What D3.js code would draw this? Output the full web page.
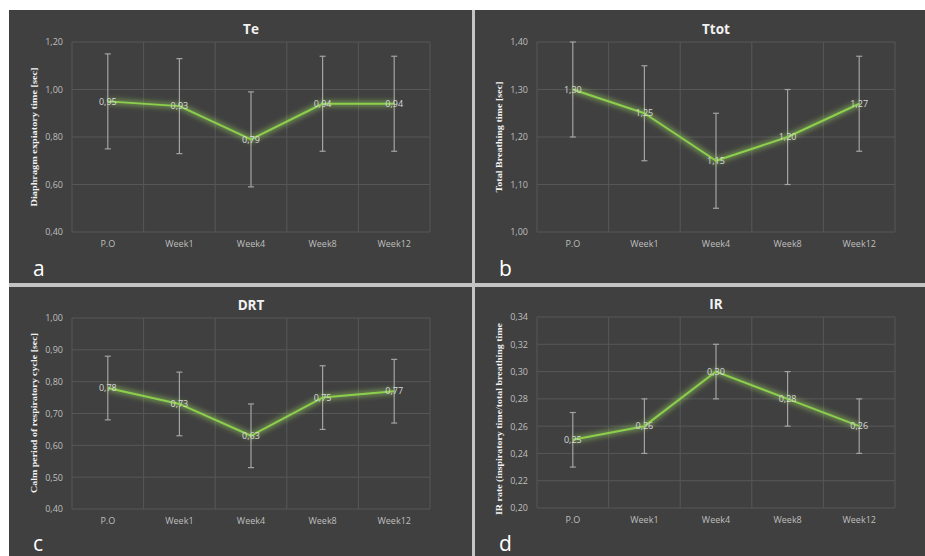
<!DOCTYPE html>
<html>
<head>
<meta charset="utf-8">
<script src="https://cdn.jsdelivr.net/npm/d3@7/dist/d3.min.js"></script>
<style>
  html, body { margin: 0; padding: 0; background: #ffffff; }
  svg { display: block; }
</style>
</head>
<body>
<div id="chart"></div>
<script>
// categories shared by all four panels
const categories = ["P.O", "Week1", "Week4", "Week8", "Week12"]

// a: Te
const teMean = [0.95, 0.93, 0.79, 0.94, 0.94]
const teSd = [0.20, 0.20, 0.20, 0.20, 0.20]
const teTicks = [0.40, 0.60, 0.80, 1.00, 1.20]

// b: Ttot
const ttotMean = [1.30, 1.25, 1.15, 1.20, 1.27]
const ttotSd = [0.10, 0.10, 0.10, 0.10, 0.10]
const ttotTicks = [1.00, 1.10, 1.20, 1.30, 1.40]

// c: DRT
const drtMean = [0.78, 0.73, 0.63, 0.75, 0.77]
const drtSd = [0.10, 0.10, 0.10, 0.10, 0.10]
const drtTicks = [0.40, 0.50, 0.60, 0.70, 0.80, 0.90, 1.00]

// d: IR
const irMean = [0.25, 0.26, 0.30, 0.28, 0.26]
const irSd = [0.02, 0.02, 0.02, 0.02, 0.02]
const irTicks = [0.20, 0.22, 0.24, 0.26, 0.28, 0.30, 0.32, 0.34]

const W = 925, H = 556
const BG = "#404040", GRID = "#575757", LINE = "#8ccf4c", ERR = "#a3a3a3"
const SANS = "'Open Sans', 'Liberation Sans', sans-serif"

const fmt = v => d3.format(".2f")(v).replace(".", ",")

const panels = [
  { title: "Te", letter: "a", mean: teMean, sd: teSd, ticks: teTicks,
    yTitle: "Diaphragm expiatory time [sec]", yTitleLen: 139,
    box: [9, 10, 463, 273], plot: [72, 430, 42, 232], yTitleY: 137, letterY: 276 },
  { title: "Ttot", letter: "b", mean: ttotMean, sd: ttotSd, ticks: ttotTicks,
    yTitle: "Total Breathing time [sec]", yTitleLen: 111,
    box: [475, 10, 450, 273], plot: [537, 895, 42, 232], yTitleY: 137, letterY: 276 },
  { title: "DRT", letter: "c", mean: drtMean, sd: drtSd, ticks: drtTicks,
    yTitle: "Calm period of respiratory cycle [sec]", yTitleLen: 160,
    box: [9, 287, 463, 269], plot: [72, 430, 318, 509], yTitleY: 413, letterY: 551 },
  { title: "IR", letter: "d", mean: irMean, sd: irSd, ticks: irTicks,
    yTitle: "IR rate (inspiratory time/total breathing time", yTitleLen: 192,
    box: [475, 287, 450, 269], plot: [537, 895, 317, 508], yTitleY: 419, letterY: 551 }
]

const svg = d3.select("#chart").append("svg")
  .attr("width", W).attr("height", H)
  .attr("viewBox", `0 0 ${W} ${H}`)

// glow behind the green line
svg.append("defs").append("filter")
  .attr("id", "glow")
  .attr("x", "-10%").attr("y", "-30%").attr("width", "120%").attr("height", "160%")
  .append("feGaussianBlur").attr("stdDeviation", 2.4)

// separators between panels
svg.append("rect").attr("x", 9).attr("y", 10).attr("width", W - 9).attr("height", H - 10)
  .attr("fill", "#c4c4c4")

panels.forEach(p => {
  const [bx, by, bw, bh] = p.box
  const [x0, x1, y0, y1] = p.plot
  const g = svg.append("g")

  g.append("rect").attr("x", bx).attr("y", by).attr("width", bw).attr("height", bh)
    .attr("fill", BG)

  const x = d3.scaleBand().domain(categories).range([x0, x1])
  const y = d3.scaleLinear().domain(d3.extent(p.ticks)).range([y1, y0])

  // grid
  g.append("g").selectAll("line.h").data(p.ticks).join("line")
    .attr("x1", x0).attr("x2", x1)
    .attr("y1", d => y(d)).attr("y2", d => y(d))
    .attr("stroke", GRID).attr("stroke-width", 1)
  const bounds = categories.map(c => x(c)).concat([x1])
  g.append("g").selectAll("line.v").data(bounds).join("line")
    .attr("x1", d => d).attr("x2", d => d)
    .attr("y1", y0).attr("y2", y1)
    .attr("stroke", GRID).attr("stroke-width", 1)

  // y tick labels
  const yAxis = g.append("g").attr("transform", `translate(${x0 - 9},0)`)
    .call(d3.axisLeft(y).tickValues(p.ticks).tickFormat(fmt).tickSize(0).tickPadding(0))
  yAxis.select(".domain").remove()
  yAxis.selectAll("text").attr("fill", "#bfbfbf").attr("font-size", 9)
    .attr("font-family", SANS)

  // x tick labels
  const xAxis = g.append("g").attr("transform", `translate(0,${y1 + 9})`)
    .call(d3.axisBottom(x).tickSize(0).tickPadding(0))
  xAxis.select(".domain").remove()
  xAxis.selectAll("text").attr("fill", "#bfbfbf").attr("font-size", 9)
    .attr("font-family", SANS)

  // title
  g.append("text").attr("x", (x0 + x1) / 2).attr("y", y0 - 8)
    .attr("text-anchor", "middle").attr("fill", "#f2f2f2")
    .attr("font-family", SANS).attr("font-weight", "bold").attr("font-size", 13.5)
    .text(p.title)

  // y title
  g.append("text")
    .attr("transform", `translate(${x0 - 35},${p.yTitleY}) rotate(-90)`)
    .attr("text-anchor", "middle").attr("fill", "#f2f2f2")
    .attr("font-family", "'Liberation Serif', 'DejaVu Serif', serif")
    .attr("font-weight", "bold").attr("font-size", 9.2)
    .attr("textLength", p.yTitleLen).attr("lengthAdjust", "spacingAndGlyphs")
    .text(p.yTitle)

  // panel letter
  g.append("text").attr("x", bx + 24).attr("y", p.letterY)
    .attr("fill", "#ffffff").attr("font-family", SANS).attr("font-size", 21)
    .text(p.letter)

  const pts = p.mean.map((m, i) => ({ c: categories[i], m, sd: p.sd[i] }))
  const cx = d => x(d.c) + x.bandwidth() / 2

  // error bars
  const eb = g.append("g").attr("stroke", ERR).attr("stroke-width", 1.2)
  eb.selectAll("line.bar").data(pts).join("line")
    .attr("x1", cx).attr("x2", cx)
    .attr("y1", d => y(d.m + d.sd)).attr("y2", d => y(d.m - d.sd))
  eb.selectAll("line.capT").data(pts).join("line")
    .attr("x1", d => cx(d) - 3).attr("x2", d => cx(d) + 3)
    .attr("y1", d => y(d.m + d.sd)).attr("y2", d => y(d.m + d.sd))
  eb.selectAll("line.capB").data(pts).join("line")
    .attr("x1", d => cx(d) - 3).attr("x2", d => cx(d) + 3)
    .attr("y1", d => y(d.m - d.sd)).attr("y2", d => y(d.m - d.sd))

  // line with glow
  const line = d3.line().x(cx).y(d => y(d.m))
  g.append("path").datum(pts).attr("d", line)
    .attr("fill", "none").attr("stroke", "#9fe060").attr("stroke-width", 6)
    .attr("stroke-opacity", 0.45).attr("filter", "url(#glow)")
  g.append("path").datum(pts).attr("d", line)
    .attr("fill", "none").attr("stroke", LINE).attr("stroke-width", 2)
    .attr("stroke-linejoin", "round")

  // data labels centered on points
  g.append("g").selectAll("text").data(pts).join("text")
    .attr("x", cx).attr("y", d => y(d.m)).attr("dy", "0.35em")
    .attr("text-anchor", "middle").attr("fill", "#d9d9d9")
    .attr("font-family", SANS).attr("font-size", 9)
    .text(d => fmt(d.m))
})
</script>
</body>
</html>
